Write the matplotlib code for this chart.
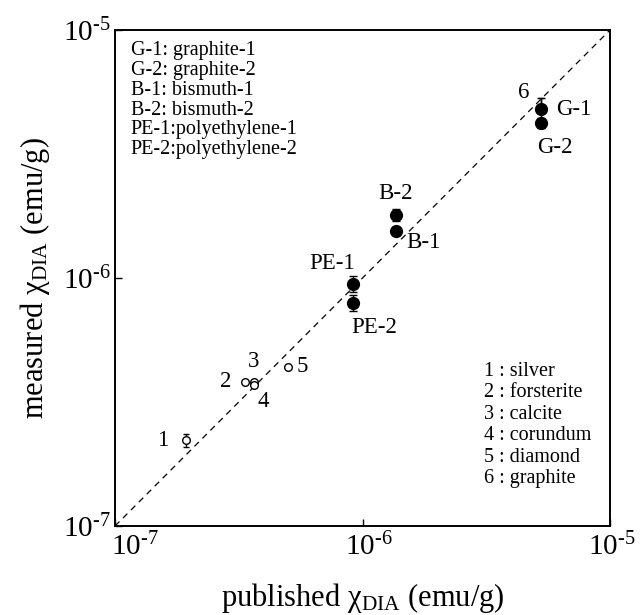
import numpy as np
import matplotlib.pyplot as plt
from matplotlib.transforms import ScaledTranslation

plt.rcParams['font.family'] = ['Liberation Serif', 'DejaVu Serif']
plt.rcParams['mathtext.fontset'] = 'custom'
plt.rcParams['mathtext.rm'] = 'Liberation Serif'
plt.rcParams['mathtext.it'] = 'Liberation Serif:italic'

# standard samples (open circles), published vs measured, emu/g
std_labels = ["1", "2", "3", "4", "5", "6"]
std_published = [1.93e-7, 3.34e-7, 3.64e-7, 3.64e-7, 4.98e-7, 5.27e-6]
std_measured = [2.22e-7, 3.81e-7, 3.81e-7, 3.70e-7, 4.38e-7, 4.80e-6]
std_err = [0.13e-7, 0.0, 0.0, 0.08e-7, 0.0, 0.5e-6]

# tested samples (filled circles)
smp_labels = ["G-1", "G-2", "B-1", "B-2", "PE-1", "PE-2"]
smp_published = [5.27e-6, 5.27e-6, 1.36e-6, 1.36e-6, 9.12e-7, 9.12e-7]
smp_measured = [4.80e-6, 4.22e-6, 1.55e-6, 1.80e-6, 9.46e-7, 7.93e-7]
smp_err = [0.5e-6, 0.2e-6, 0.06e-6, 0.1e-6, 0.07e-6, 0.06e-6]

# label offsets in pixels
std_off = [(-23, 0), (-19, 0), (0, 20), (9, -16), (15, 0), (-17, 17)]
smp_off = [(33, 0), (14, -25), (28, -12), (0, 21), (-20, 20), (22, -25)]

left_notes = ["G-1: graphite-1", "G-2: graphite-2", "B-1: bismuth-1",
              "B-2: bismuth-2", "PE-1:polyethylene-1", "PE-2:polyethylene-2"]
right_notes = ["1 : silver", "2 : forsterite", "3 : calcite",
               "4 : corundum", "5 : diamond", "6 : graphite"]

ticks = [1e-7, 1e-6, 1e-5]
tick_labels = ["10$^{\u20107}$", "10$^{\u20106}$", "10$^{\u20105}$"]

fig = plt.figure(figsize=(6.41, 6.15), dpi=100)
ax = fig.add_axes([115 / 641, 89 / 615, 495 / 641, 496 / 615])

ax.plot([1e-7, 1e-5], [1e-7, 1e-5], ls=(0, (5, 4)), color='black', lw=0.9)

ax.errorbar(std_published, std_measured, yerr=std_err, fmt='o', ms=5.5,
            mfc='white', mec='black', mew=1.0, ecolor='black', elinewidth=1,
            capsize=2.5, zorder=3)
ax.errorbar(smp_published, smp_measured, yerr=smp_err, fmt='o', ms=8.5,
            mfc='black', mec='black', ecolor='black', elinewidth=1,
            capsize=3, zorder=4)

for lab, x, y, off in zip(std_labels, std_published, std_measured, std_off):
    ax.annotate(lab, (x, y), xytext=off, textcoords='offset pixels',
                ha='center', va='center', fontsize=16.5)
for lab, x, y, off in zip(smp_labels, smp_published, smp_measured, smp_off):
    ax.annotate(lab, (x, y), xytext=off, textcoords='offset pixels',
                ha='center', va='center', fontsize=16.5)

ax.text(0.032, 0.977, "\n".join(left_notes), transform=ax.transAxes,
        ha='left', va='top', fontsize=14.5, linespacing=1.05)
ax.text(0.745, 0.331, "\n".join(right_notes), transform=ax.transAxes,
        ha='left', va='top', fontsize=14.5, linespacing=1.18)

ax.set_xscale('log')
ax.set_yscale('log')
ax.set_xlim(1e-7, 1e-5)
ax.set_ylim(1e-7, 1e-5)
ax.set_xticks(ticks, tick_labels)
ax.set_yticks(ticks, tick_labels)
ax.minorticks_off()
ax.tick_params(direction='in', length=5, width=1, labelsize=21)
ax.tick_params(axis='x', pad=5)
ax.tick_params(axis='y', pad=3)
for s in ax.spines.values():
    s.set_linewidth(1.4)

# nudge x tick labels to the right like the original
for lbl, dx in zip(ax.get_xticklabels(), [20, 6, 2]):
    lbl.set_transform(lbl.get_transform() + ScaledTranslation(dx / 100, 0, fig.dpi_scale_trans))

ax.set_xlabel("published χ$_{\\mathrm{DIA}}$ (emu/g)", fontsize=22, labelpad=14)
ax.set_ylabel("measured χ$_{\\mathrm{DIA}}$ (emu/g)", fontsize=22, labelpad=8)

fig.savefig("out.png", dpi=100)
